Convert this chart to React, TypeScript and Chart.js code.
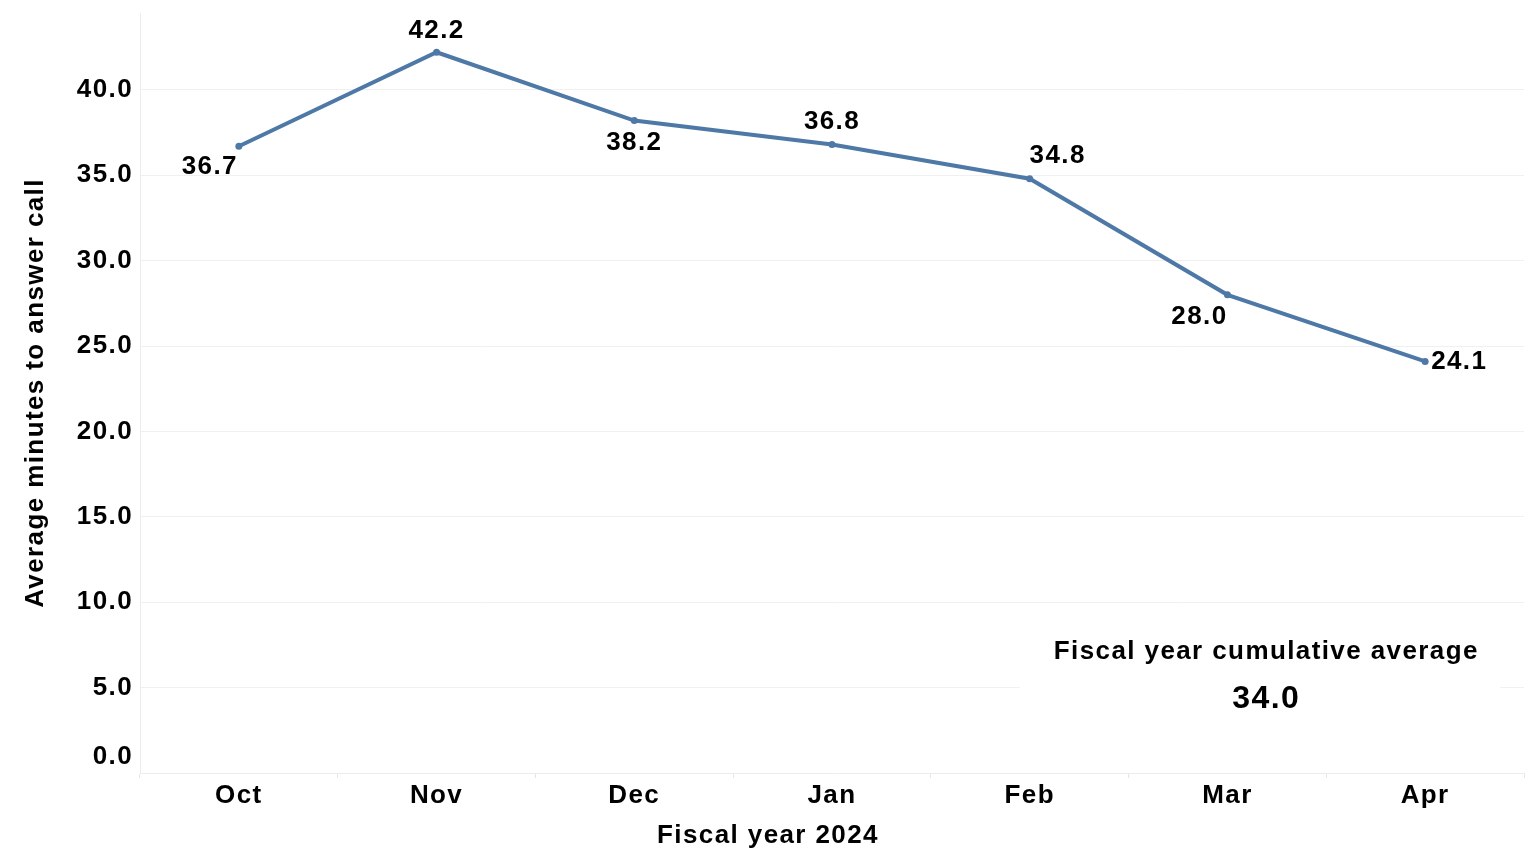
import React, { useEffect, useRef } from "react";
import { Chart, registerables } from "chart.js";

Chart.register(...registerables);

const months = ["Oct", "Nov", "Dec", "Jan", "Feb", "Mar", "Apr"];
const avgMinutes = [36.7, 42.2, 38.2, 36.8, 34.8, 28.0, 24.1];
const yTickValues = [0, 5, 10, 15, 20, 25, 30, 35, 40];
const cumulativeAverage = 34.0;
const cumulativeLabel = "Fiscal year cumulative average";
const xTitle = "Fiscal year 2024";
const yTitle = "Average minutes to answer call";

const FONT = "'Liberation Sans', Arial, sans-serif";
const FS = 26;
const SPACING = "1.4px";
const LINE = "#4e79a7";

// label placement relative to the point: [dx, dy, textAlign]
const labelPlacement: [number, number, CanvasTextAlign][] = [
  [-29, 21, "center"],
  [0, -21, "center"],
  [0, 22, "center"],
  [0, -23, "center"],
  [28, -23, "center"],
  [-28, 22, "center"],
  [6, 0, "left"],
];

const setSpacing = (chart: any) => {
  const ctx = chart.ctx as any;
  if (ctx && "letterSpacing" in ctx) ctx.letterSpacing = SPACING;
};

const labelsPlugin = {
  id: "pointLabels",
  beforeInit: setSpacing,
  beforeLayout: setSpacing,
  beforeDraw: setSpacing,
  afterDatasetsDraw(chart: any) {
    const { ctx } = chart;
    const meta = chart.getDatasetMeta(0);
    ctx.save();
    ctx.font = `bold ${FS}px ${FONT}`;
    ctx.fillStyle = "#000";
    ctx.textBaseline = "middle";
    meta.data.forEach((pt: any, i: number) => {
      const [dx, dy, align] = labelPlacement[i];
      ctx.textAlign = align;
      ctx.fillText(avgMinutes[i].toFixed(1), pt.x + dx, pt.y + dy);
    });
    ctx.restore();
  },
  afterDraw(chart: any) {
    const { ctx } = chart;
    const xs = chart.scales.x;
    const ys = chart.scales.y;
    ctx.save();
    // y tick labels
    ctx.font = `bold ${FS}px ${FONT}`;
    ctx.fillStyle = "#000";
    ctx.textAlign = "right";
    ctx.textBaseline = "middle";
    yTickValues.forEach((v) => {
      const y = Math.min(ys.getPixelForValue(v), ys.bottom - 16);
      ctx.fillText(v.toFixed(1), ys.right - 7, y);
    });
    // x axis title, centred on the whole figure
    ctx.textAlign = "center";
    ctx.fillText(xTitle, chart.width / 2, xs.bottom - 28);
    // cumulative average box
    const x0 = xs.getPixelForValue(4) - 10;
    const x1 = xs.getPixelForValue(6) + 75;
    const yTop = ys.getPixelForValue(8.3);
    const yBot = ys.getPixelForValue(0.8);
    ctx.fillStyle = "#fff";
    ctx.fillRect(x0, yTop, x1 - x0, yBot - yTop);
    const cx = (xs.getPixelForValue(5) + xs.getPixelForValue(6)) / 2 - 60;
    ctx.fillStyle = "#000";
    ctx.font = `bold ${FS}px ${FONT}`;
    ctx.fillText(cumulativeLabel, cx, ys.getPixelForValue(7.1));
    ctx.font = `bold 32px ${FONT}`;
    ctx.fillText(cumulativeAverage.toFixed(1), cx, ys.getPixelForValue(4.3));
    ctx.restore();
  },
};

export default function App() {
  const ref = useRef<HTMLCanvasElement>(null);
  useEffect(() => {
    if (!ref.current) return;
    const chart = new Chart(ref.current, {
      type: "line",
      data: {
        labels: months,
        datasets: [
          {
            data: avgMinutes,
            borderColor: LINE,
            backgroundColor: LINE,
            borderWidth: 4,
            pointRadius: 3.5,
            pointBackgroundColor: LINE,
            pointBorderWidth: 0,
            tension: 0,
          },
        ],
      },
      plugins: [labelsPlugin],
      options: {
        animation: false,
        responsive: false,
        devicePixelRatio: 1,
        layout: { padding: { top: 13, right: 12, left: 0, bottom: 0 } },
        plugins: { legend: { display: false }, tooltip: { enabled: false } },
        scales: {
          x: {
            offset: true,
            afterFit: (s: any) => {
              s.height = 91;
            },
            grid: {
              offset: true,
              drawOnChartArea: false,
              drawTicks: true,
              tickLength: 5,
              color: "#e6e6e6",
            },
            border: { display: true, color: "#ececec" },
            ticks: {
              color: "#000",
              font: { family: FONT, size: FS, weight: "bold" },
              padding: 2,
            },
            title: { display: false },
          },
          y: {
            min: 0,
            max: 44.5,
            afterFit: (s: any) => {
              s.width = 140;
            },
            afterBuildTicks: (s: any) => {
              s.ticks = yTickValues.map((v) => ({ value: v }));
            },
            grid: {
              color: (c: any) => (c.tick && c.tick.value === 0 ? "rgba(0,0,0,0)" : "#f0f0f0"),
              drawTicks: false,
            },
            border: { display: true, color: "#ececec" },
            ticks: { display: false },
            title: {
              display: true,
              text: yTitle,
              color: "#000",
              font: { family: FONT, size: FS, weight: "bold" },
              padding: { top: 20, bottom: 0 },
            },
          },
        },
      },
    });
    return () => chart.destroy();
  }, []);
  return (
    <div style={{ position: "fixed", left: 0, top: 0, width: 1536, height: 864, background: "#fff" }}>
      <canvas ref={ref} width={1536} height={864} style={{ width: 1536, height: 864 }} />
    </div>
  );
}
